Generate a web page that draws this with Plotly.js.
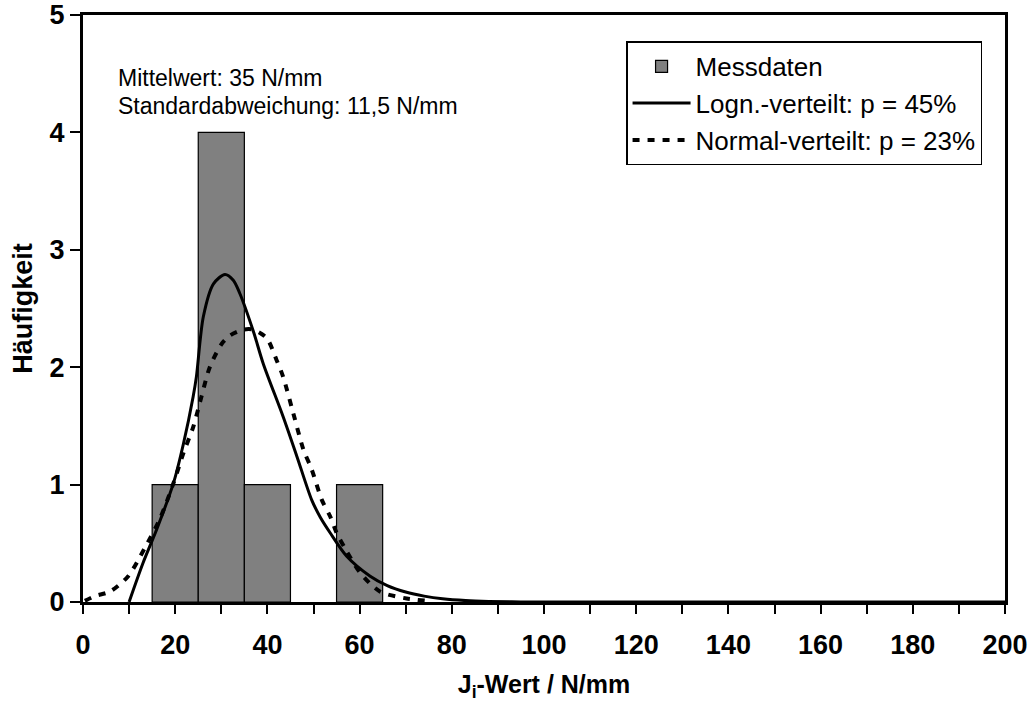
<!DOCTYPE html>
<html>
<head>
<meta charset="utf-8">
<script src="https://cdn.plot.ly/plotly-3.0.1.min.js"></script>
<style>html,body{margin:0;padding:0;background:#fff;}#chart{width:1033px;height:702px;}</style>
</head>
<body>
<div id="chart"></div>
<script>
// Histogram (Messdaten): bin centres and counts
const binCenters = [20, 30, 40, 60];
const binCounts = [1, 4, 1, 1];

// Lognormal fit
const lognX = [10, 13, 16, 19.6, 21.8, 23.9, 24.6, 26.1, 28.3, 30.8, 32.6, 34, 37, 39.1, 43.4, 46.4, 49.6, 51.5, 53.6, 57.2, 62.3, 66, 70, 74, 78, 83, 88, 95, 120, 150, 200];
const lognY = [0, 0.33, 0.62, 1.01, 1.35, 1.75, 1.92, 2.43, 2.71, 2.79, 2.74, 2.63, 2.3, 2.03, 1.58, 1.24, 0.87, 0.72, 0.59, 0.39, 0.22, 0.14, 0.085, 0.05, 0.027, 0.012, 0.005, 0.001, 0, 0, 0];

// Normal fit
const normX = [0.4, 2.6, 5.9, 9.8, 13.4, 16.7, 19.6, 21.8, 23.9, 25.7, 27.5, 30.1, 31.9, 34.8, 36.9, 39.8, 42, 43.4, 45.6, 47.8, 49.6, 51.8, 53.6, 55, 56.8, 60.1, 64.4, 70.2, 75];
const normY = [0.01, 0.05, 0.09, 0.22, 0.46, 0.71, 1.01, 1.27, 1.49, 1.75, 2.0, 2.2, 2.27, 2.32, 2.32, 2.25, 2.06, 1.92, 1.61, 1.30, 1.13, 0.87, 0.73, 0.59, 0.46, 0.25, 0.09, 0.03, 0.01];

const xTickVals = [0, 20, 40, 60, 80, 100, 120, 140, 160, 180, 200];
const yTickVals = [0, 1, 2, 3, 4, 5];

const font = 'Arial, "Liberation Sans", sans-serif';

const traces = [
  {type: 'bar', x: binCenters, y: binCounts, width: 10, name: 'Messdaten',
   marker: {color: '#808080', line: {color: '#000', width: 1.2}}},
  {type: 'scatter', mode: 'lines', x: lognX, y: lognY, name: 'Logn.-verteilt: p = 45%',
   line: {color: '#000', width: 3, shape: 'spline', smoothing: 0.8}},
  {type: 'scatter', mode: 'lines', x: normX, y: normY, name: 'Normal-verteilt: p = 23%',
   line: {color: '#000', width: 4, dash: '7px,8px', shape: 'spline', smoothing: 0.8}}
];

const layout = {
  width: 1033, height: 702,
  margin: {l: 83, r: 28, t: 15, b: 100},
  paper_bgcolor: '#fff', plot_bgcolor: '#fff',
  font: {family: font, color: '#000'},
  showlegend: true,
  bargap: 0,
  legend: {x: 0.589, y: 0.955, xanchor: 'left', yanchor: 'top',
           bordercolor: '#000', borderwidth: 1.5, bgcolor: '#fff',
           font: {family: font, size: 26, color: '#000'},
           itemwidth: 58, tracegroupgap: 0},
  xaxis: {range: [0, 200], tickvals: xTickVals, ticktext: xTickVals.map(String),
          showgrid: false, zeroline: false, showline: true, linecolor: '#000', linewidth: 3,
          mirror: true, ticks: 'outside', ticklen: 9, tickwidth: 2, tickcolor: '#000',
          ticklabelstandoff: 8,
          minor: {dtick: 10, ticks: 'outside', ticklen: 9, tickwidth: 2, tickcolor: '#000', showgrid: false},
          tickfont: {family: font, size: 27, color: '#000', weight: 'bold'},
          title: {text: '<b>J<sub>i</sub>-Wert / N/mm</b>', font: {family: font, size: 25, color: '#000'}, standoff: 24}},
  yaxis: {range: [0, 5], tickvals: yTickVals, ticktext: yTickVals.map(String),
          showgrid: false, zeroline: false, showline: true, linecolor: '#000', linewidth: 3,
          mirror: true, ticks: 'outside', ticklen: 10, tickwidth: 2, tickcolor: '#000',
          tickfont: {family: font, size: 27, color: '#000', weight: 'bold'},
          title: {text: '<b>Häufigkeit</b>', font: {family: font, size: 27, color: '#000'}, standoff: 10}},
  annotations: [
    {xref: 'paper', yref: 'paper', x: 0.036, y: 0.892, xanchor: 'left', yanchor: 'middle',
     text: 'Mittelwert: 35 N/mm', showarrow: false, font: {family: font, size: 23, color: '#000'}},
    {xref: 'paper', yref: 'paper', x: 0.036, y: 0.845, xanchor: 'left', yanchor: 'middle',
     text: 'Standardabweichung: 11,5 N/mm', showarrow: false, font: {family: font, size: 23, color: '#000'}}
  ]
};

Plotly.newPlot('chart', traces, layout, {displayModeBar: false, staticPlot: true});
</script>
</body>
</html>
